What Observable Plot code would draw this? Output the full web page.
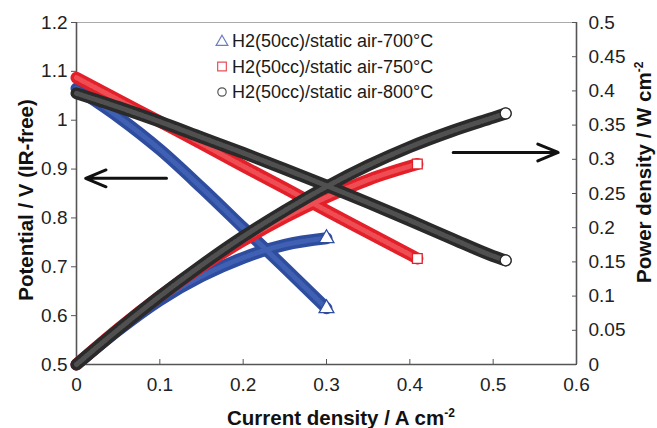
<!DOCTYPE html>
<html>
<head>
<meta charset="utf-8">
<script src="https://cdn.jsdelivr.net/npm/d3@7"></script>
<script src="https://cdn.jsdelivr.net/npm/@observablehq/plot@0.6"></script>
<style>
  html, body { margin: 0; padding: 0; background: #fff; }
  #chart { width: 657px; height: 428px; overflow: hidden; }
</style>
</head>
<body>
<div id="chart"></div>
<script>
// ---- data ----
const seriesNames = ["H2(50cc)/static air-700°C", "H2(50cc)/static air-750°C", "H2(50cc)/static air-800°C"];

const current700   = [0, 0.05, 0.1, 0.15, 0.2, 0.25, 0.3];
const potential700 = [1.065, 1.007, 0.94, 0.862, 0.78, 0.698, 0.615];
const power700     = [0, 0.05, 0.094, 0.129, 0.156, 0.175, 0.1845];

const current750   = [0, 0.05, 0.1, 0.15, 0.2, 0.25, 0.3, 0.35, 0.409];
const potential750 = [1.087, 1.042, 0.997, 0.952, 0.906, 0.861, 0.815, 0.77, 0.717];
const power750     = [0, 0.052, 0.0997, 0.143, 0.181, 0.215, 0.2445, 0.27, 0.293];

const current800   = [0, 0.05, 0.1, 0.15, 0.2, 0.25, 0.3, 0.35, 0.4, 0.45, 0.5, 0.515];
const potential800 = [1.055, 1.027, 0.997, 0.965, 0.933, 0.9, 0.866, 0.831, 0.795, 0.758, 0.722, 0.713];
const power800     = [0, 0.051, 0.0997, 0.145, 0.187, 0.225, 0.26, 0.291, 0.318, 0.341, 0.361, 0.367];

const xTicks = [0, 0.1, 0.2, 0.3, 0.4, 0.5, 0.6];
const potentialTicks = [0.5, 0.6, 0.7, 0.8, 0.9, 1, 1.1, 1.2];
const powerTicks = [0, 0.05, 0.1, 0.15, 0.2, 0.25, 0.3, 0.35, 0.4, 0.45, 0.5];

// annotation arrows (data units): potential arrow and power arrow
const potentialArrow = [{x1: 0.108, x2: 0.011, v: 0.881}];
const powerArrow = [{x1: 0.452, x2: 0.578, p: 0.31}];

// ---- styling ----
const colors = ["#2f4d9f", "#e3202a", "#2a2a2a"];
const inner  = ["#3f60b3", "#ee4d53", "#505050"];
const symbols = ["triangle", "square", "circle"];

const pToV = d3.scaleLinear().domain([0, 0.5]).range([0.5, 1.2]);

const raw = [
  [current700, potential700, power700],
  [current750, potential750, power750],
  [current800, potential800, power800]
];

const rows = [];
raw.forEach(([cur, pot, pow], s) => {
  cur.forEach((c, i) => {
    rows.push({s, key: s + "V", x: c, y: pot[i]});
    rows.push({s, key: s + "P", x: c, y: pToV(pow[i])});
  });
});
const ends = [];
raw.forEach(([cur, pot, pow], s) => {
  const n = cur.length - 1;
  ends.push({s, x: cur[n], y: pot[n]});
  ends.push({s, x: cur[n], y: pToV(pow[n])});
});

const font = "'Liberation Sans', Arial, Helvetica, sans-serif";
const marks = [];
for (let s = 0; s < 3; s++) {
  const d = rows.filter(r => r.s === s);
  marks.push(Plot.line(d, {x: "x", y: "y", z: "key", stroke: colors[s], strokeWidth: 12, curve: "monotone-x"}));
  marks.push(Plot.line(d, {x: "x", y: "y", z: "key", stroke: inner[s], strokeWidth: 5, curve: "monotone-x", strokeDasharray: "2,2"}));
  marks.push(Plot.dot(ends.filter(e => e.s === s), {x: "x", y: "y", symbol: () => symbols[s], r: 5.5, fill: "white", stroke: colors[s], strokeWidth: 1.3}));
}

const fmt = v => String(+(+v).toFixed(2));

const svg = Plot.plot({
  width: 657,
  height: 428,
  marginLeft: 76,
  marginRight: 81,
  marginTop: 22,
  marginBottom: 64,
  style: {fontFamily: font, fontSize: "19px", color: "#222", background: "white", overflow: "visible"},
  x: {domain: [0, 0.6]},
  y: {domain: [0.5, 1.2]},
  marks: [
    Plot.ruleY([1.2], {stroke: "#aaa", strokeWidth: 1.2}),
    Plot.ruleY([0.5], {stroke: "#555", strokeWidth: 1.6}),
    Plot.ruleX([0], {stroke: "#555", strokeWidth: 1.6}),
    Plot.ruleX([0.6], {stroke: "#555", strokeWidth: 1.6}),
    Plot.axisX(xTicks, {anchor: "bottom", tickSize: -5, tickPadding: 18, tickFormat: fmt, label: null, stroke: "#555", fill: "#222"}),
    Plot.axisY(potentialTicks, {anchor: "left", tickSize: 5, tickPadding: 4, tickFormat: fmt, label: null, stroke: "#555", fill: "#222"}),
    Plot.axisY(powerTicks.map(pToV), {anchor: "right", tickSize: -5, tickPadding: 17, tickFormat: d => fmt(pToV.invert(d)), label: null, stroke: "#555", fill: "#222"}),
    ...marks,
    Plot.arrow(potentialArrow, {x1: "x1", x2: "x2", y1: "v", y2: "v", stroke: "#111", strokeWidth: 3, headLength: 11, headAngle: 45}),
    Plot.arrow(powerArrow, {x1: "x1", x2: "x2", y1: d => pToV(d.p), y2: d => pToV(d.p), stroke: "#111", strokeWidth: 3, headLength: 11, headAngle: 45})
  ]
});

const sel = d3.select(svg);
// axis titles
const xt = sel.append("text").attr("x", 227).attr("y", 425).attr("text-anchor", "start")
  .attr("font-family", font).attr("font-size", 20.5).attr("font-weight", "bold").attr("fill", "#111");
xt.append("tspan").text("Current density / A cm");
xt.append("tspan").attr("dy", -8).attr("font-size", 12).text("-2");

sel.append("text").attr("transform", "translate(33,200) rotate(-90)").attr("text-anchor", "middle")
  .attr("font-family", font).attr("font-size", 20.5).attr("font-weight", "bold").attr("fill", "#111")
  .text("Potential / V (IR-free)");

const yt2 = sel.append("text").attr("transform", "translate(651,283) rotate(-90)").attr("text-anchor", "start")
  .attr("font-family", font).attr("font-size", 20.5).attr("font-weight", "bold").attr("fill", "#111");
yt2.append("tspan").text("Power density / W cm");
yt2.append("tspan").attr("dy", -8).attr("font-size", 12).text("-2");

// legend
const symPaths = [
  d3.symbol(d3.symbolTriangle, 60)(),
  d3.symbol(d3.symbolSquare, 75)(),
  d3.symbol(d3.symbolCircle, 55)()
];
const legendColors = ["#6a7fc0", "#e8505a", "#555"];
seriesNames.forEach((name, i) => {
  const cy = 41 + i * 25.5;
  sel.append("path").attr("d", symPaths[i]).attr("transform", `translate(222,${cy + (i === 0 ? 1 : 0)})`)
    .attr("fill", "white").attr("stroke", legendColors[i]).attr("stroke-width", 1.2);
  sel.append("text").attr("x", 232).attr("y", cy).attr("dy", "0.36em").attr("text-anchor", "start")
    .attr("font-family", font).attr("font-size", 18).attr("fill", "#1a1a1a").text(name);
});

document.getElementById("chart").appendChild(svg);
</script>
</body>
</html>
